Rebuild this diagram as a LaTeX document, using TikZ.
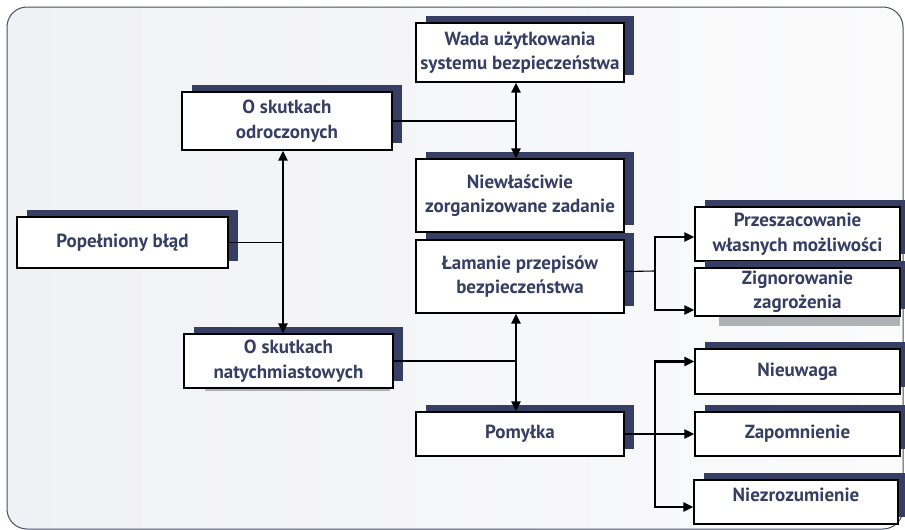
\documentclass[tikz,border=0pt]{standalone}
\usepackage{fontspec}
\setmainfont{PT Sans}
\usetikzlibrary{arrows.meta,shadows}
\definecolor{navy}{RGB}{54,63,99}
\definecolor{framegray}{RGB}{72,78,102}
\definecolor{bgleft}{RGB}{240,241,244}
\definecolor{bgright}{RGB}{251,251,252}
\definecolor{greyshadow}{RGB}{176,177,182}
\tikzset{
  box/.style={draw, line width=1.2pt, fill=white, text=navy, align=center, inner sep=0pt,
    font=\bfseries\fontsize{19}{24.5}\selectfont,
    general shadow={fill=navy, draw=none, shadow xshift=10pt, shadow yshift=7pt}},
  thinline/.style={line width=1.1pt},
  arr/.style={line width=2.2pt, -{Triangle[length=10pt,width=9pt]}},
  dblarr/.style={line width=2.2pt, {Triangle[length=10pt,width=9pt]}-{Triangle[length=10pt,width=9pt]}}
}
\begin{document}
\begin{tikzpicture}[x=1pt, y=-1pt]
  \useasboundingbox (0,0) rectangle (905,530);
  \draw [framegray, line width=1pt, rounded corners=20pt, left color=bgleft, right color=bgright] (7,7) rectangle (903,529);
  \fill [greyshadow] (719,316) rectangle (900,326);
  \fill [greyshadow] (205,388) rectangle (390,391);

  \node [box, minimum width=210pt, minimum height=58pt] (odr) at (287, 121) {O skutkach\\odroczonych};
  \node [box, minimum width=211pt, minimum height=51pt] (bl) at (122.5, 242.5) {Popełniony błąd};
  \node [box, minimum width=209pt, minimum height=54pt] (nat) at (288.5, 361) {O skutkach\\natychmiastowych};
  \node [box, minimum width=208pt, minimum height=59pt] (wada) at (520, 52.5) {Wada użytkowania\\systemu bezpieczeństwa};
  \node [box, minimum width=208pt, minimum height=73pt] (niew) at (520, 195.5) {Niewłaściwie\\zorganizowane zadanie};
  \node [box, minimum width=208pt, minimum height=73pt] (lam) at (520, 276.5) {Łamanie przepisów\\bezpieczeństwa};
  \node [box, minimum width=208pt, minimum height=44pt] (pom) at (520, 434) {Pomyłka};
  \node [box, minimum width=205pt, minimum height=54pt] (prz) at (797.5, 234) {Przeszacowanie\\własnych możliwości};
  \node [box, minimum width=205pt, minimum height=48pt] (zig) at (797.5, 292) {Zignorowanie\\zagrożenia};
  \node [box, minimum width=205pt, minimum height=45pt] (nieu) at (797.5, 371.5) {Nieuwaga};
  \node [box, minimum width=205pt, minimum height=44pt] (zap) at (797.5, 434) {Zapomnienie};
  \node [box, minimum width=204pt, minimum height=44pt, text depth=14pt] (niez) at (796, 502) {Niezrozumienie};

  \coordinate (odrx) at ([xshift=-4pt]odr.south);
  \coordinate (wadax) at ([xshift=-4pt]wada.south);
  \coordinate (lamx) at ([xshift=-4pt]lam.south);
  \coordinate (lamfork) at (655, 271);
  \coordinate (pomfork) at (655, 434);

  \draw [dblarr] (odrx) -- (odrx |- nat.north);
  \draw [thinline] (bl.east) -- (bl.east -| odrx);
  \draw [dblarr] (wadax) -- (wadax |- niew.north);
  \draw [thinline] (odr.east) -- (odr.east -| wadax);
  \draw [dblarr] (lamx) -- (lamx |- pom.north);
  \draw [thinline] (nat.east) -- (nat.east -| lamx);

  \draw [thinline] ([yshift=5pt]lam.east) -- (lamfork);
  \draw [arr] (lamfork) |- ([yshift=-3pt]prz.west);
  \draw [arr] (lamfork) |- ([yshift=-18pt]zig.west);

  \draw [arr] (pom.east) -- (zap.west);
  \draw [arr] (pomfork) |- ([yshift=10pt]nieu.west);
  \draw [arr] (pomfork) |- ([yshift=-5pt]niez.west);
\end{tikzpicture}
\end{document}
